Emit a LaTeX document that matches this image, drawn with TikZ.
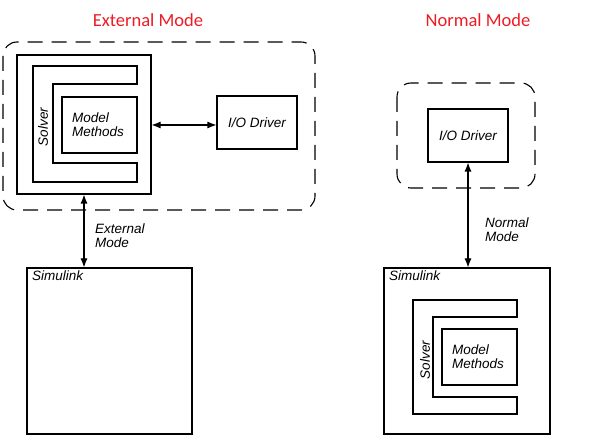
\documentclass[tikz,border=0pt]{standalone}
\usepackage{fontspec}
\setmainfont{Liberation Sans}
\newfontfamily\titlefont{Carlito}
\usetikzlibrary{arrows.meta}
\definecolor{titlered}{RGB}{236,28,36}
\begin{document}
\begin{tikzpicture}[x=1pt,y=-1pt,
  box/.style={draw, line width=1.1pt, inner sep=0pt, minimum width=#1},
  dashbox/.style={draw, line width=1.1pt, dash pattern=on 15pt off 9pt, rounded corners=14pt},
  lbl/.style={font=\fontsize{13.5}{14}\selectfont\itshape, inner sep=0pt, align=left},
  ttl/.style={font=\titlefont\fontsize{18.5}{20}\selectfont, text=titlered, inner sep=0pt},
  conn/.style={line width=1.1pt, {Latex[length=9pt,width=7pt]}-{Latex[length=9pt,width=7pt]}}
]
\useasboundingbox (0,0) rectangle (596,443);

% titles
\node[ttl] (t1) at (148,20) {External Mode};
\node[ttl] (t2) at (478,20) {Normal Mode};

% ---------- External mode ----------
\draw[dashbox] (3,42) rectangle (315,210);
\node[box=134pt, minimum height=139pt] (solverL) at (84,124.5) {};
\draw[line width=1.1pt] (137,66) -- (33,66) -- (33,182) -- (137,182) -- (137,163) -- (53,163) -- (53,84) -- (137,84) -- cycle;
\node[box=75pt, minimum height=56pt] (mmL) at (99.5,125) {};
\node[lbl, anchor=west] (mmLt) at (72,125) {Model\\Methods};
\node[lbl, rotate=90] (solvL) at (43,127) {Solver};
\node[box=80pt, minimum height=53pt] (ioL) at (257,122.5) {};
\node[lbl] (ioLt) at (ioL) {I/O Driver};
\node[box=165pt, minimum height=166pt] (simL) at (109.5,351) {};
\node[lbl, anchor=north west] (simLt) at (32,271) {Simulink};

\draw[conn] (solverL.east |- mmL) -- (ioL.west |- mmL);
\draw[conn] (solverL.south) -- (solverL.south |- simL.north);
\node[lbl, anchor=west] (extlbl) at (95,236) {External\\Mode};

% ---------- Normal mode ----------
\draw[dashbox] (397,83) rectangle (535,188);
\node[box=80pt, minimum height=53pt] (ioR) at (468,135.5) {};
\node[lbl] (ioRt) at (ioR) {I/O Driver};
\node[box=166pt, minimum height=166pt] (simR) at (467,351) {};
\node[lbl, anchor=north west] (simRt) at (389,271) {Simulink};
\draw[line width=1.1pt] (517,300) -- (413,300) -- (413,414) -- (517,414) -- (517,397) -- (433,397) -- (433,317) -- (517,317) -- cycle;
\node[box=75pt, minimum height=56pt] (mmR) at (479.5,357) {};
\node[lbl, anchor=west] (mmRt) at (452,357) {Model\\Methods};
\node[lbl, rotate=90] (solvR) at (425,360) {Solver};

\draw[conn] (ioR.south) -- (ioR.south |- simR.north);
\node[lbl, anchor=west] (normlbl) at (485,230) {Normal\\Mode};
\end{tikzpicture}
\end{document}
